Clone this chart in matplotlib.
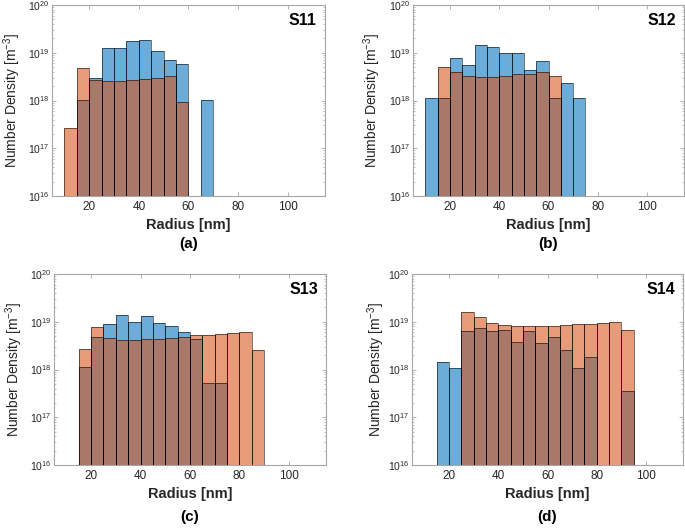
import numpy as np
import matplotlib
matplotlib.use("Agg")
import matplotlib.pyplot as plt
from matplotlib.ticker import LogLocator, NullFormatter, FixedLocator

plt.rcParams['font.family'] = ['Liberation Sans', 'DejaVu Sans']
plt.rcParams['mathtext.fontset'] = 'custom'
plt.rcParams['mathtext.rm'] = 'Liberation Sans'
plt.rcParams['mathtext.it'] = 'Liberation Sans:italic'
plt.rcParams['mathtext.bf'] = 'Liberation Sans:bold'

# Bin left edges (nm), bin width 5 nm
bin_left = [10, 15, 20, 25, 30, 35, 40, 45, 50, 55, 60, 65, 70, 75, 80, 85, 90]
bin_width = 5

panel_titles = ["S11", "S12", "S13", "S14"]
panel_letters = ["(a)", "(b)", "(c)", "(d)"]

s11_blue = [0, 1.0e18, 3.0e18, 1.28e19, 1.28e19, 1.77e19, 1.88e19, 1.09e19, 6.9e18, 5.9e18, 0, 1.0e18, 0, 0, 0, 0, 0]
s11_orange = [2.6e17, 4.8e18, 2.75e18, 2.5e18, 2.5e18, 2.66e18, 2.84e18, 3.0e18, 3.2e18, 9.2e17, 0, 0, 0, 0, 0, 0, 0]

s12_blue = [1.12e18, 1.12e18, 7.8e18, 5.6e18, 1.46e19, 1.32e19, 1.0e19, 1.0e19, 4.45e18, 6.8e18, 1.13e18, 2.27e18, 1.12e18, 0, 0, 0, 0]
s12_orange = [0, 5.0e18, 3.9e18, 3.3e18, 3.1e18, 3.15e18, 3.3e18, 3.55e18, 3.65e18, 4.0e18, 3.3e18, 0, 0, 0, 0, 0, 0]

s13_blue = [0, 1.12e18, 4.8e18, 8.9e18, 1.36e19, 9.8e18, 1.29e19, 9.3e18, 8.0e18, 6.0e18, 4.3e18, 5.3e17, 5.3e17, 0, 0, 0, 0]
s13_orange = [0, 2.75e18, 7.6e18, 4.6e18, 4.2e18, 4.1e18, 4.3e18, 4.35e18, 4.5e18, 4.8e18, 5.2e18, 5.2e18, 5.5e18, 5.8e18, 6.0e18, 2.55e18, 0]

s14_blue = [0, 1.43e18, 1.07e18, 6.3e18, 7.5e18, 6.35e18, 6.8e18, 3.8e18, 6.35e18, 3.6e18, 4.75e18, 2.6e18, 1.07e18, 1.8e18, 0, 0, 3.5e17]
s14_orange = [0, 0, 0, 1.6e19, 1.25e19, 9.4e18, 8.5e18, 8.1e18, 8.1e18, 8.3e18, 8.3e18, 8.6e18, 8.9e18, 8.9e18, 9.4e18, 9.8e18, 6.6e18]

blue_series = [s11_blue, s12_blue, s13_blue, s14_blue]
orange_series = [s11_orange, s12_orange, s13_orange, s14_orange]

x_ticks = [20, 40, 60, 80, 100]

blue_c = (0.0, 0.447, 0.741)
orange_c = (0.85, 0.325, 0.098)
text_c = (0.15, 0.15, 0.15)
spine_c = (0.65, 0.65, 0.65)

fig = plt.figure(figsize=(6.85, 5.28), dpi=100)

positions = [
    [52/685, 1-196/528, 273/685, 191/528],
    [413/685, 1-196/528, 271/685, 191/528],
    [54/685, 1-465/528, 272/685, 191/528],
    [412/685, 1-465/528, 271/685, 191/528],
]
ylabel_x = [-0.108, -0.1125, -0.105, -0.094]

def draw(ax, vals, color):
    v = np.array(vals, dtype=float)
    x = np.array(bin_left, dtype=float)
    m = v > 0
    ax.bar(x[m], v[m], width=bin_width, align='edge', bottom=1e10,
           color=color, alpha=0.58, edgecolor='none', zorder=2)
    ax.bar(x[m], v[m], width=bin_width, align='edge', bottom=1e10,
           facecolor='none', edgecolor=(0, 0, 0, 0.55), linewidth=0.7, zorder=3)

for i in range(4):
    ax = fig.add_axes(positions[i])
    draw(ax, blue_series[i], blue_c)
    draw(ax, orange_series[i], orange_c)
    ax.set_yscale('log')
    ax.set_ylim(1e16, 1e20)
    ax.set_xlim(5, 115)
    ax.xaxis.set_major_locator(FixedLocator(x_ticks))
    ax.yaxis.set_major_locator(LogLocator(base=10, numticks=10))
    ax.yaxis.set_minor_locator(LogLocator(base=10, subs=np.arange(2, 10), numticks=20))
    ax.yaxis.set_minor_formatter(NullFormatter())
    ax.tick_params(axis='both', which='both', direction='in', top=True, right=True,
                   colors=spine_c, labelcolor=text_c)
    ax.tick_params(axis='x', which='major', labelsize=8.5)
    ax.tick_params(axis='y', which='major', labelsize=7.5, pad=2)
    ax.tick_params(axis='both', which='major', length=3, width=0.6)
    ax.tick_params(axis='y', which='minor', length=1.5, width=0.5)
    for s in ax.spines.values():
        s.set_color(spine_c)
        s.set_linewidth(0.8)
    ax.set_xlabel("Radius [nm]", fontsize=10.5, fontweight='bold', color=text_c, labelpad=4)
    ax.set_ylabel("Number Density [m$^{-3}$]", fontsize=10, color=text_c)
    ax.yaxis.set_label_coords(ylabel_x[i], 0.5)
    ax.text(0.97, 0.96, panel_titles[i], transform=ax.transAxes, ha='right', va='top',
            fontsize=11.5, fontweight='bold', color='black')
    ax.text(0.5, -0.215 if i < 2 else -0.235, panel_letters[i], transform=ax.transAxes,
            ha='center', va='top', fontsize=11, fontweight='bold', color='black')

fig.savefig("out.png", dpi=100)
